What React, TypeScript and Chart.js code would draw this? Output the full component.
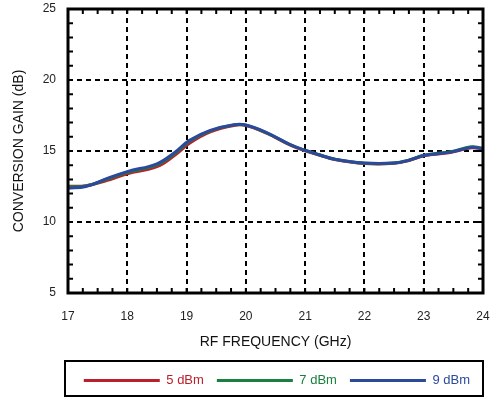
import React, { useEffect, useRef } from "react";
import { Chart, registerables } from "chart.js";

Chart.register(...registerables);

const freqs = [17.0, 17.3, 17.65, 18.0, 18.5, 18.8, 19.05, 19.4, 19.8, 20.0, 20.35, 20.75, 21.0, 21.25, 21.5, 22.0, 22.5, 22.75, 23.0, 23.45, 23.8, 24.0];
const gain5 = [12.52, 12.55, 12.92, 13.4, 13.9, 14.7, 15.55, 16.35, 16.8, 16.8, 16.25, 15.42, 15.02, 14.7, 14.4, 14.12, 14.13, 14.33, 14.66, 14.9, 15.22, 15.15];
const gain7 = [12.48, 12.53, 13.0, 13.5, 14.02, 14.82, 15.68, 16.42, 16.84, 16.82, 16.28, 15.44, 15.04, 14.72, 14.42, 14.14, 14.15, 14.36, 14.7, 14.95, 15.3, 15.2];
const gain9 = [12.38, 12.5, 13.05, 13.55, 14.1, 14.9, 15.75, 16.45, 16.85, 16.83, 16.3, 15.45, 15.05, 14.72, 14.42, 14.15, 14.15, 14.35, 14.68, 14.92, 15.25, 15.17];
const seriesLabels = ["5 dBm", "7 dBm", "9 dBm"];
const seriesColors = ["#bb1f2a", "#1a8040", "#2b4a9b"];
const xTitle = "RF FREQUENCY (GHz)";
const yTitle = "CONVERSION GAIN (dB)";

const FONT = "'Liberation Sans', Arial, Helvetica, sans-serif";

const framePlugin = {
  id: "frame",
  afterDatasetsDraw(chart: any) {
    const { ctx, chartArea: a, scales } = chart;
    const xs = scales.x;
    const ys = scales.y;
    ctx.save();
    ctx.strokeStyle = "#000";
    ctx.lineWidth = 2;
    for (let v = 17; v <= 24.0001; v += 0.25) {
      const px = xs.getPixelForValue(v);
      ctx.beginPath();
      ctx.moveTo(px, a.bottom);
      ctx.lineTo(px, a.bottom - 5);
      ctx.moveTo(px, a.top);
      ctx.lineTo(px, a.top + 5);
      ctx.stroke();
    }
    for (let v = 5; v <= 25.0001; v += 1) {
      const py = ys.getPixelForValue(v);
      ctx.beginPath();
      ctx.moveTo(a.left, py);
      ctx.lineTo(a.left + 5, py);
      ctx.moveTo(a.right, py);
      ctx.lineTo(a.right - 5, py);
      ctx.stroke();
    }
    ctx.lineWidth = 3;
    ctx.strokeRect(a.left, a.top, a.right - a.left, a.bottom - a.top);
    ctx.restore();
  },
  afterDraw(chart: any) {
    const { ctx, chartArea: a } = chart;
    const lg = chart.legend;
    if (!lg) return;
    ctx.save();
    ctx.strokeStyle = "#000";
    ctx.lineWidth = 2;
    ctx.strokeRect(a.left - 3, lg.top, a.right - a.left + 3, lg.height - 1);
    ctx.restore();
  },
};

export default function App() {
  const ref = useRef<HTMLCanvasElement>(null);
  useEffect(() => {
    document.body.style.margin = "0";
    const gains = [gain5, gain7, gain9];
    const chart = new Chart(ref.current!, {
      type: "line",
      data: {
        datasets: gains.map((g, i) => ({
          label: seriesLabels[i],
          data: freqs.map((f, j) => ({ x: f, y: g[j] })),
          borderColor: seriesColors[i],
          backgroundColor: seriesColors[i],
          borderWidth: 3,
          pointRadius: 0,
          tension: 0.4,
          fill: false,
          order: 2 - i,
        })),
      },
      options: {
        animation: false,
        responsive: false,
        layout: { padding: { left: 0, right: 11, top: 9, bottom: 3 } },
        plugins: {
          tooltip: { enabled: false },
          legend: {
            position: "bottom",
            align: "end",
            labels: {
              usePointStyle: true,
              pointStyleWidth: 76,
              padding: 13,
              font: { family: FONT, size: 13 },
              generateLabels(chart: any) {
                return chart.data.datasets.map((ds: any, i: number) => ({
                  text: ds.label,
                  fillStyle: ds.borderColor,
                  strokeStyle: ds.borderColor,
                  fontColor: ds.borderColor,
                  lineWidth: 3,
                  pointStyle: "line",
                  hidden: false,
                  datasetIndex: i,
                }));
              },
            },
          },
        },
        scales: {
          x: {
            type: "linear",
            min: 17,
            max: 24,
            afterFit(s: any) { s.height = 68; s.paddingLeft = 0; s.paddingRight = 0; },
            ticks: { stepSize: 1, padding: 16, color: "#222", font: { family: FONT, size: 12 } },
            grid: { color: "#000", lineWidth: 2, drawTicks: false },
            border: { display: false, dash: [5, 4] },
            title: { display: true, text: xTitle, color: "#111", font: { family: FONT, size: 14 }, padding: { top: 0, bottom: 10 } },
          },
          y: {
            type: "linear",
            min: 5,
            max: 25,
            afterFit(s: any) { s.width = 68; s.paddingTop = 0; s.paddingBottom = 0; },
            ticks: { stepSize: 5, padding: 12, color: "#222", font: { family: FONT, size: 12 } },
            grid: { color: "#000", lineWidth: 2, drawTicks: false },
            border: { display: false, dash: [5, 4] },
            title: { display: true, text: yTitle, color: "#111", font: { family: FONT, size: 14 }, padding: { top: 11, bottom: 0 } },
          },
        },
      },
      plugins: [framePlugin],
    } as any);
    return () => chart.destroy();
  }, []);
  return (
    <div style={{ width: 494, height: 400 }}>
      <canvas ref={ref} width={494} height={400} style={{ display: "block" }} />
    </div>
  );
}
